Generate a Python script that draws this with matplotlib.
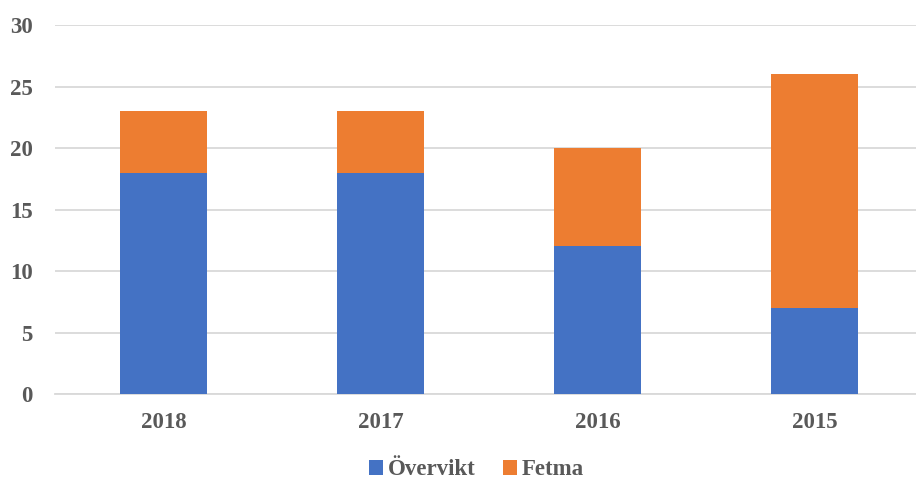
import numpy as np
import matplotlib.pyplot as plt

years = ["2018", "2017", "2016", "2015"]
overvikt = [18, 18, 12, 7]
fetma = [5, 5, 8, 19]

plt.rcParams['font.family'] = ['Liberation Serif', 'DejaVu Serif']
plt.rcParams['font.weight'] = 'bold'

fig = plt.figure(figsize=(9.16, 4.84), dpi=100)
ax = fig.add_axes([0.060, 0.186, 0.94, 0.762])

x = np.arange(len(years))
ax.bar(x, overvikt, width=0.4, color="#4472C4", label="Övervikt", zorder=3)
ax.bar(x, fetma, width=0.4, bottom=overvikt, color="#ED7D31", label="Fetma", zorder=3)

ax.set_ylim(0, 30)
ax.set_yticks(range(0, 31, 5))
ax.set_xlim(-0.5, 3.468)
ax.set_xticks(x)
ax.set_xticklabels(years)
ax.yaxis.grid(True, color="#D9D9D9", linewidth=1.3, zorder=0)
for s in ["top", "right", "left"]:
    ax.spines[s].set_visible(False)
ax.spines["bottom"].set_color("#D9D9D9")
ax.spines["bottom"].set_linewidth(1.3)
ax.tick_params(length=0, labelsize=16.5, labelcolor="#595959")
ax.tick_params(axis="y", pad=16)
ax.tick_params(axis="x", pad=13)

leg = fig.legend(loc="lower center", bbox_to_anchor=(0.52, -0.035), ncol=2, frameon=False,
                 fontsize=16.5, handlelength=0.6, handleheight=0.6,
                 handletextpad=0.2, columnspacing=1.2)
for t in leg.get_texts():
    t.set_color("#595959")
    t.set_fontweight("bold")
    t.set_family(['Liberation Serif', 'DejaVu Serif'])

fig.savefig("out.png", dpi=100)
